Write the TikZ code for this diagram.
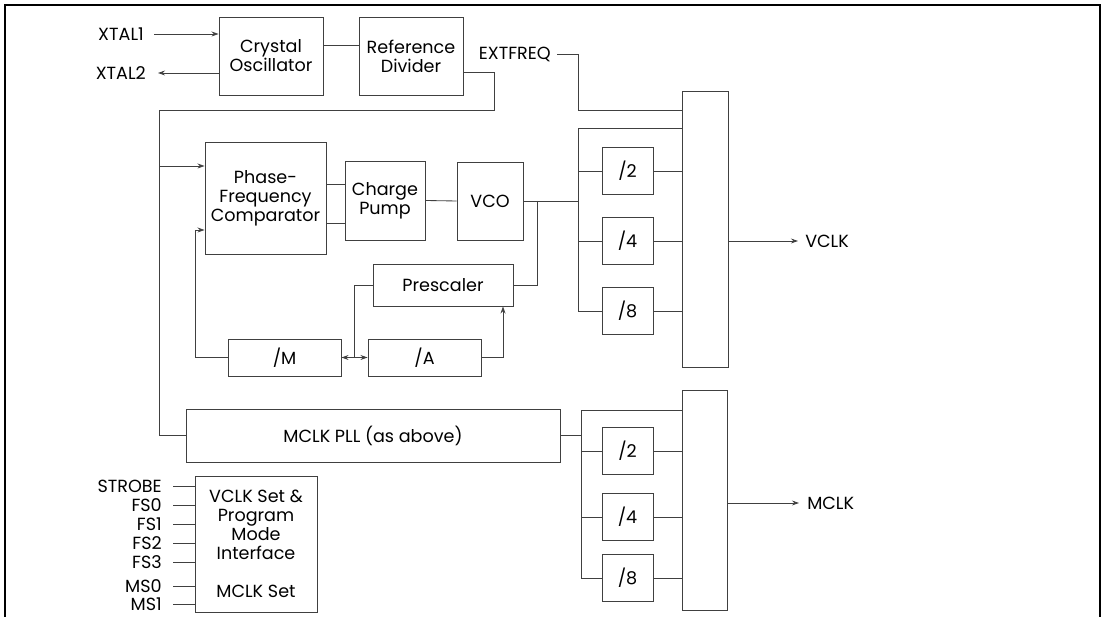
\documentclass[tikz,border=0pt]{standalone}
\usepackage{fontspec}
\setmainfont{Poppins}
\usetikzlibrary{arrows.meta,calc}

\begin{document}
\begin{tikzpicture}[x=0.25mm, y=-0.25mm, font=\fontsize{12.5}{13.5}\selectfont,
  blk/.style={draw=black!75, line width=0.6pt, align=center, inner sep=0pt},
  wire/.style={draw=black!75, line width=0.6pt},
  arr/.style={wire, -{Stealth[length=5pt,width=3.5pt]}},
  darr/.style={wire, {Stealth[length=5pt,width=3.5pt]}-{Stealth[length=5pt,width=3.5pt]}},
  lbl/.style={inner sep=0pt}]
\useasboundingbox (0,0) rectangle (1104,617);
\draw[line width=0.8pt] (5,617) -- (5,5) -- (1100,5) -- (1100,617);
\draw[line width=1.6pt] (5,5) -- (1100,5);
%reference
\node[blk, minimum width=26mm, minimum height=19.5mm] (xo) at (271,56) {Crystal\\Oscillator};
\node[blk, minimum width=26mm, minimum height=19.5mm] (rd) at (411,56) {Reference\\Divider};
\node[lbl, anchor=east] (xtal1) at (144,34) {XTAL1};
\node[lbl, anchor=east] (xtal2) at (146,73) {XTAL2};
\node[lbl, anchor=east] (ext) at (551,54) {EXTFREQ};
\draw[arr, shorten <=2.5mm] (xtal1.east) -- (xtal1.east -| xo.west);
\draw[arr, shorten >=3mm] (xo.west |- xtal2.east) -- (xtal2.east);
\draw[wire] ([yshift=2.75mm]xo.east) -- ([yshift=2.75mm]rd.west);
%vclk pll
\node[blk, minimum width=30.25mm, minimum height=28mm] (pfc) at (265.5,198) {Phase-\\Frequency\\Comparator};
\node[blk, minimum width=20mm, minimum height=19.75mm] (cp) at (385,200.5) {Charge\\Pump};
\node[blk, minimum width=16.5mm, minimum height=19.5mm] (vco) at (490,201) {VCO};
\node[blk, minimum width=35mm, minimum height=10.5mm] (pre) at (443,285) {Prescaler};
\node[blk, minimum width=28.25mm, minimum height=9.25mm] (dm) at (284.5,357.5) {/M};
\node[blk, minimum width=28.25mm, minimum height=9.25mm] (da) at (424.5,357.5) {/A};
\coordinate (refbus) at (159,110);
\coordinate (rdturn) at (494,110);
\coordinate (pfcin1) at ([yshift=8mm]pfc.west);
\coordinate (pfcin2) at ([yshift=-8mm]pfc.west);
\coordinate (vtop) at (578,128);
\coordinate (vtap) at (537,201);
\coordinate (extc) at (578,110);
\coordinate (mid) at ($(dm.east)!0.5!(da.west)$);
\draw[arr] (refbus |- pfcin1) -- (pfcin1);
\draw[wire] ([yshift=3.5mm]pfc.east) -- ([yshift=3.5mm]pfc.east -| cp.west);
\draw[wire] ([yshift=-6.25mm]pfc.east) -- ([yshift=-6.25mm]pfc.east -| cp.west);
\draw[wire] (cp.east) -- (vco.west);
\draw[wire] (vco.east) -- (vco.east -| vtop);
\draw[wire] (vtap) |- (pre.east);
\draw[wire] (pre.west) -| (mid);
\draw[darr] (dm.east) -- (da.west);
\draw[arr] (da.east) -| ([xshift=15mm]pre.south);
\draw[arr] (dm.west) -- ++(-8mm,0) |- (pfcin2);
%vclk dividers and mux
\node[blk, minimum width=11.5mm, minimum height=69mm] (vmux) at (705,229) {};
\foreach \d/\y in {2/171,4/241,8/311}{
  \node[blk, minimum width=12.75mm, minimum height=11.75mm] (v\d) at (627.5,\y) {/\d};
  \draw[wire] (vtop |- v\d) -- (v\d.west);
  \draw[wire] (v\d.east) -- (v\d.east -| vmux.west);
}
\draw[wire] (vmux.west |- vtop) -- (vtop) |- (v8.west);
\draw[wire, shorten <=1.5mm] (ext.east) -| (extc) -- (extc -| vmux.west);
\node[lbl, anchor=west] (vclk) at (805,241) {VCLK};
\draw[arr, shorten >=1.75mm] (vmux.east |- v4) -- (vclk.west);
%mclk pll
\node[blk, minimum width=93.5mm, minimum height=13.25mm] (mpll) at (373,435.5) {MCLK PLL (as above)};
\draw[wire] ([yshift=-4mm]rd.east) -| (rdturn) -- (refbus) |- (mpll.west);
\node[blk, minimum width=11.25mm, minimum height=55mm] (mmux) at (704.5,500) {};
\coordinate (mtop) at (581,410);
\foreach \d/\y in {2/451,4/517,8/578}{
  \node[blk, minimum width=12.75mm, minimum height=11.75mm] (m\d) at (627.5,\y) {/\d};
  \draw[wire] (mtop |- m\d) -- (m\d.west);
  \draw[wire] (m\d.east) -- (m\d.east -| mmux.west);
}
\draw[wire] (mpll.east) -- (mpll.east -| mtop);
\draw[wire] (mmux.west |- mtop) -- (mtop) |- (m8.west);
\node[lbl, anchor=west] (mclk) at (807,503) {MCLK};
\draw[arr, shorten >=2mm] (mmux.east |- mclk) -- (mclk.west);
%set interface
\node[blk, minimum width=30.5mm, minimum height=34mm] (set) at (256,544) {VCLK Set \&\\Program\\Mode\\Interface\\[13.5pt]MCLK Set};
\foreach \n/\y in {STROBE/486,FS0/505,FS1/524,FS2/543,FS3/562,MS0/586,MS1/604}{
  \node[lbl, anchor=east] (in\n) at (162,\y) {\n};
  \draw[wire, shorten <=2.75mm] (in\n.east) -- (in\n.east -| set.west);
}
\end{tikzpicture}
\end{document}
